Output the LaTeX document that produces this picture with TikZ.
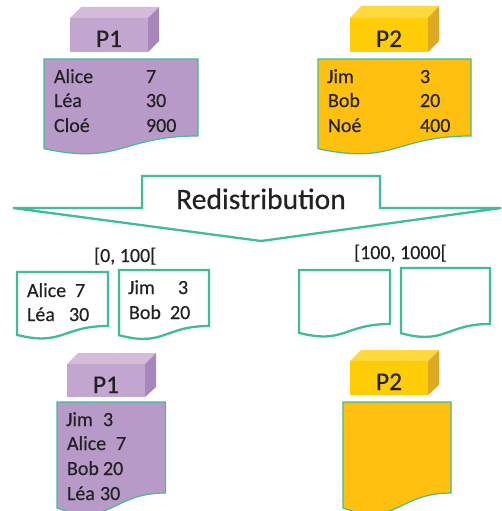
\documentclass[tikz,border=0pt]{standalone}
\usepackage{fontspec}
\setmainfont{Carlito}[RawFeature={embolden=0.35}]
\definecolor{teal1}{HTML}{40BC98}
\definecolor{docpurple}{HTML}{B79AC8}
\definecolor{docyellow}{HTML}{FFC010}
\definecolor{ptop}{HTML}{D5BBDA}
\definecolor{pfront}{HTML}{C3A6CF}
\definecolor{pside}{HTML}{A686BB}
\definecolor{ytop}{HTML}{FFD83D}
\definecolor{yfront}{HTML}{FFCC08}
\definecolor{yside}{HTML}{DFA925}
\definecolor{ink}{HTML}{222222}
% document shape: #1 style, #2 x0, #3 y0, #4 x1, #5 height
\newcommand{\docshape}[5]{%
  \pgfmathsetmacro{\xm}{(#2+#4)/2}%
  \pgfmathsetmacro{\yr}{#3+0.802*#5}%
  \pgfmathsetmacro{\yl}{#3+0.934*#5}%
  \pgfmathsetmacro{\yc}{#3+1.1075*#5}%
  \draw[#1] (#2,#3) -- (#4,#3) -- (#4,\yr) .. controls (\xm,\yr) and (\xm,\yc) .. (#2,\yl) -- cycle;}
% block: #1 top colour, #2 front, #3 side, #4 front-left x, #5 back top y, #6 front top y, #7 front bottom y, #8 side bottom y
\newcommand{\blockshape}[8]{%
  \pgfmathsetmacro{\xa}{#4+78}\pgfmathsetmacro{\xb}{#4+11}\pgfmathsetmacro{\xc}{#4+89}%
  \fill[#2] (#4,#6) rectangle (\xa,#7);
  \fill[#1] (#4,#6) -- (\xb,#5) -- (\xc,#5) -- (\xa,#6) -- cycle;
  \fill[#3] (\xa,#6) -- (\xc,#5) -- (\xc,#8) -- (\xa,#7) -- cycle;}
\tikzset{
  lab/.style={anchor=base west,inner sep=0pt,outer sep=0pt,text=ink,font=\fontsize{20}{20}\selectfont},
  blk/.style={anchor=base,inner sep=0pt,outer sep=0pt,text=ink,font=\fontsize{25.5}{26}\selectfont},
  thinDoc/.style={draw=teal1,line width=1.2pt,line join=miter},
  openDoc/.style={draw=teal1,line width=2.3pt,fill=white,line join=miter}
}
\begin{document}
\begin{tikzpicture}[x=1pt,y=-1pt]
\useasboundingbox (0,0) rectangle (502,511);
\clip (0,0) rectangle (502,511);
% top blocks
\blockshape{ptop}{pfront}{pside}{70}{7}{18}{52}{41}
\blockshape{ytop}{yfront}{yside}{350}{6}{18}{52}{41}
\node[blk] (p1a) at (109,47) {P1};
\node[blk] (p2a) at (389,47) {P2};
% top documents
\docshape{thinDoc,fill=docpurple}{44}{59}{198}{96}
\docshape{thinDoc,fill=docyellow}{318}{59}{471}{96}
\node[lab] (t1) at (54,83) {Alice};
\node[lab] (t2) at (54,107) {Léa};
\node[lab] (t3) at (54,132) {Cloé};
\node[lab] (t4) at (146,83) {7};
\node[lab] (t5) at (146,107) {30};
\node[lab] (t6) at (146,132) {900};
\node[lab] (t7) at (327,83) {Jim};
\node[lab] (t8) at (328,107) {Bob};
\node[lab] (t9) at (328,132) {Noé};
\node[lab] (t10) at (420,83) {3};
\node[lab] (t11) at (420,107) {20};
\node[lab] (t12) at (420,132) {400};
% arrow
\draw[draw=teal1,line width=2.3pt,line join=miter,miter limit=2,fill=white]
  (142,176) -- (380,176) -- (380,208) -- (501,208) -- (261,241) -- (13,208) -- (142,208) -- cycle;
\node[anchor=base,inner sep=0pt,text=ink,font=\fontsize{29.6}{30}\selectfont] (redis) at (261,209) {Redistribution};
% ranges
\node[lab] (r1) at (94,262) {[0, 100[};
\node[lab] (r2) at (354,259) {[100, 1000[};
% small documents
\docshape{openDoc}{17}{272}{108}{67.3}
\docshape{openDoc}{119}{270}{209}{69.8}
\docshape{openDoc}{299}{270}{390}{67.3}
\docshape{openDoc}{401}{268}{490}{69.8}
\node[lab] (s1) at (27,297) {Alice};
\node[lab] (s2) at (75,297) {7};
\node[lab] (s3) at (27,321) {Léa};
\node[lab] (s4) at (69,321) {30};
\node[lab] (s5) at (128,294) {Jim};
\node[lab] (s6) at (178,294) {3};
\node[lab] (s7) at (129,319) {Bob};
\node[lab] (s8) at (170,319) {20};
% bottom blocks
\blockshape{ptop}{pfront}{pside}{67}{353}{364}{397}{387}
\blockshape{ytop}{yfront}{yside}{350}{350}{361}{395}{385}
\node[blk] (p1b) at (106,393) {P1};
\node[blk] (p2b) at (389,390) {P2};
% bottom documents
\docshape{thinDoc,fill=docpurple}{57}{402}{165.5}{113.5}
\docshape{thinDoc,fill=docyellow}{343}{402}{451}{113.5}
\node[lab] (b1) at (66,426) {Jim};
\node[lab] (b2) at (103,426) {3};
\node[lab] (b3) at (67,450) {Alice};
\node[lab] (b4) at (116,450) {7};
\node[lab] (b5) at (67,475) {Bob};
\node[lab] (b6) at (103,475) {20};
\node[lab] (b7) at (67,500) {Léa};
\node[lab] (b8) at (100,500) {30};
\end{tikzpicture}
\end{document}
